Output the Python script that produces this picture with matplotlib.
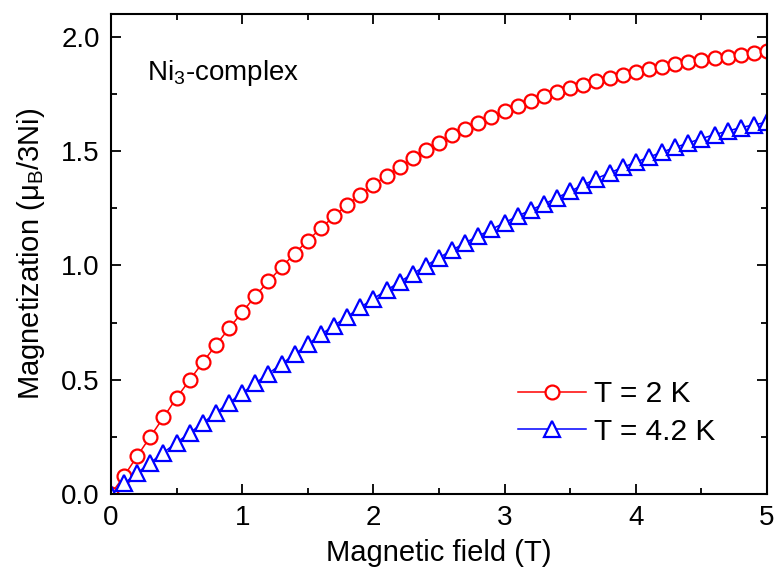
import matplotlib
matplotlib.use("Agg")
import matplotlib.pyplot as plt
from matplotlib.ticker import MultipleLocator, FuncFormatter

plt.rcParams['font.family'] = ['Liberation Sans', 'DejaVu Sans']
plt.rcParams['mathtext.fontset'] = 'custom'
plt.rcParams['mathtext.rm'] = 'Liberation Sans'
plt.rcParams['mathtext.it'] = 'Liberation Sans:italic'
plt.rcParams['mathtext.bf'] = 'Liberation Sans:bold'

# Magnetic field (T)
field = [round(0.1 * i, 1) for i in range(51)]

# Magnetization at T = 2 K (muB per 3 Ni)
m_2K = [0.000, 0.079, 0.166, 0.251, 0.335, 0.421, 0.499, 0.576, 0.652, 0.725,
        0.795, 0.866, 0.931, 0.992, 1.052, 1.109, 1.163, 1.215, 1.265, 1.309,
        1.352, 1.393, 1.432, 1.469, 1.505, 1.537, 1.569, 1.599, 1.625, 1.651,
        1.675, 1.698, 1.721, 1.742, 1.758, 1.775, 1.790, 1.805, 1.819, 1.834,
        1.847, 1.859, 1.870, 1.881, 1.890, 1.898, 1.907, 1.914, 1.921, 1.929,
        1.936]

# Magnetization at T = 4.2 K (muB per 3 Ni)
m_42K = [0.000, 0.046, 0.092, 0.137, 0.181, 0.225, 0.267, 0.311, 0.355, 0.399,
         0.442, 0.484, 0.527, 0.569, 0.611, 0.655, 0.698, 0.737, 0.776, 0.816,
         0.855, 0.891, 0.928, 0.964, 0.998, 1.034, 1.067, 1.099, 1.129, 1.158,
         1.187, 1.216, 1.243, 1.268, 1.296, 1.325, 1.352, 1.380, 1.405, 1.429,
         1.452, 1.474, 1.496, 1.516, 1.536, 1.555, 1.572, 1.588, 1.603, 1.615,
         1.627]

labels = ["T = 2 K", "T = 4.2 K"]

fig = plt.figure(figsize=(7.76, 5.76), dpi=100)
ax = fig.add_axes([111 / 776, 82 / 576, 656 / 776, 480 / 576])

ax.plot(field, m_2K, color='red', lw=1.1, marker='o', ms=10,
        mfc='white', mec='red', mew=1.6, label=labels[0])
ax.plot(field, m_42K, color='blue', lw=1.1, marker='^', ms=11,
        mfc='white', mec='blue', mew=1.6, label=labels[1])

ax.set_xlim(0, 5)
ax.set_ylim(0, 2.1)
ax.xaxis.set_major_locator(MultipleLocator(1))
ax.xaxis.set_minor_locator(MultipleLocator(0.5))
ax.yaxis.set_major_locator(MultipleLocator(0.5))
ax.yaxis.set_minor_locator(MultipleLocator(0.25))
ax.xaxis.set_major_formatter(FuncFormatter(lambda v, p: f"{v:.0f}"))
ax.yaxis.set_major_formatter(FuncFormatter(lambda v, p: f"{v:.1f}"))

ax.tick_params(which='both', direction='in', top=True, right=True,
               width=1.3, labelsize=20, pad=8)
ax.tick_params(which='major', length=7)
ax.tick_params(which='minor', length=4)
for s in ax.spines.values():
    s.set_linewidth(1.5)

ax.set_xlabel("Magnetic field (T)", fontsize=21, labelpad=6)
ax.set_ylabel("Magnetization (μ$_\\mathrm{B}$/3Ni)", fontsize=21, labelpad=10)

ax.text(0.055, 0.862, "Ni$_\\mathrm{3}$-complex", transform=ax.transAxes,
        fontsize=20, va='baseline', ha='left')

ax.legend(loc='upper left', frameon=False, fontsize=21.5, handlelength=2.3,
          handletextpad=0.27, borderpad=0, borderaxespad=0, labelspacing=0.32,
          bbox_to_anchor=(0.620, 0.2375))

fig.savefig("out.png", dpi=100)
